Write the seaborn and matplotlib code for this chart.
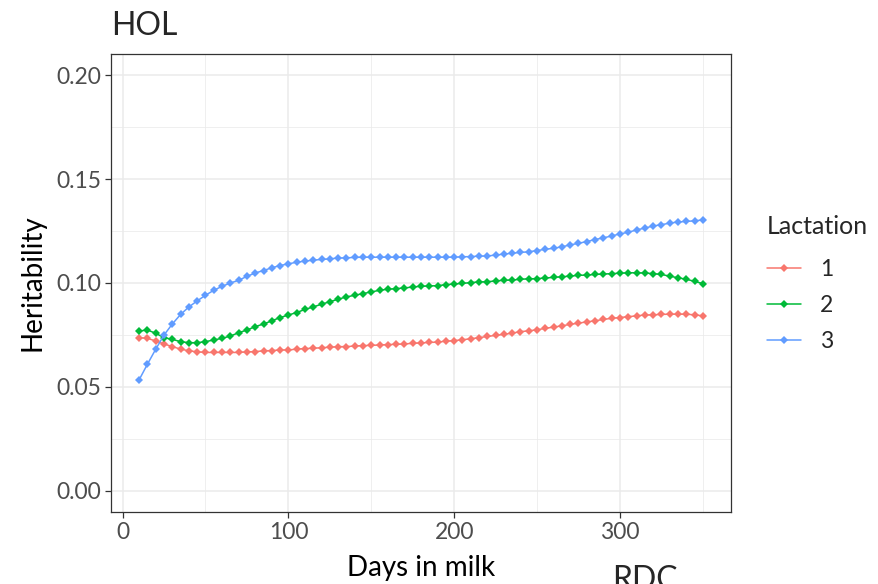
import numpy as np
import pandas as pd
import seaborn as sns
from matplotlib import pyplot as plt
from matplotlib.ticker import MultipleLocator


# days in milk, one point every 5 days
DIM = list(range(10, 355, 5))

# heritability per lactation
H2_LAC1 = [
    0.0737, 0.0734, 0.0721, 0.0707, 0.0694, 0.0682, 0.0674, 0.0669, 0.0666, 0.0666,
    0.0666, 0.0666, 0.0666, 0.0669, 0.0670, 0.0674, 0.0675, 0.0678, 0.0678, 0.0682,
    0.0685, 0.0686, 0.0689, 0.0691, 0.0694, 0.0694, 0.0697, 0.0699, 0.0700, 0.0702,
    0.0704, 0.0705, 0.0707, 0.0710, 0.0712, 0.0714, 0.0716, 0.0720, 0.0723, 0.0727,
    0.0732, 0.0737, 0.0743, 0.0748, 0.0753, 0.0759, 0.0766, 0.0770, 0.0775, 0.0782,
    0.0788, 0.0794, 0.0801, 0.0807, 0.0813, 0.0818, 0.0825, 0.0830, 0.0834, 0.0838,
    0.0842, 0.0846, 0.0847, 0.0849, 0.0850, 0.0850, 0.0850, 0.0847, 0.0842,
]
H2_LAC2 = [
    0.0769, 0.0774, 0.0758, 0.0737, 0.0729, 0.0718, 0.0713, 0.0713, 0.0718, 0.0726,
    0.0734, 0.0745, 0.0761, 0.0774, 0.0790, 0.0803, 0.0818, 0.0834, 0.0846, 0.0858,
    0.0873, 0.0885, 0.0898, 0.0910, 0.0922, 0.0933, 0.0941, 0.0949, 0.0957, 0.0965,
    0.0970, 0.0973, 0.0976, 0.0981, 0.0984, 0.0986, 0.0987, 0.0992, 0.0995, 0.0998,
    0.1002, 0.1005, 0.1006, 0.1010, 0.1013, 0.1014, 0.1018, 0.1020, 0.1021, 0.1024,
    0.1027, 0.1030, 0.1033, 0.1037, 0.1038, 0.1041, 0.1043, 0.1045, 0.1047, 0.1049,
    0.1049, 0.1048, 0.1045, 0.1041, 0.1033, 0.1025, 0.1018, 0.1008, 0.0997,
]
H2_LAC3 = [
    0.0535, 0.0610, 0.0682, 0.0750, 0.0803, 0.0849, 0.0885, 0.0914, 0.0941, 0.0965,
    0.0984, 0.1000, 0.1013, 0.1032, 0.1048, 0.1060, 0.1073, 0.1084, 0.1092, 0.1100,
    0.1105, 0.1110, 0.1113, 0.1116, 0.1120, 0.1121, 0.1123, 0.1124, 0.1124, 0.1124,
    0.1124, 0.1124, 0.1124, 0.1124, 0.1124, 0.1124, 0.1124, 0.1124, 0.1124, 0.1126,
    0.1127, 0.1129, 0.1130, 0.1134, 0.1139, 0.1143, 0.1147, 0.1150, 0.1156, 0.1162,
    0.1167, 0.1174, 0.1183, 0.1191, 0.1199, 0.1209, 0.1217, 0.1226, 0.1236, 0.1244,
    0.1255, 0.1264, 0.1274, 0.1280, 0.1288, 0.1293, 0.1296, 0.1299, 0.1303,
]
LACTATIONS = ["1", "2", "3"]
COLORS = {"1": "#F8766D", "2": "#00BA38", "3": "#619CFF"}

FONT = "Lato"


def build_frame():
    series = {"1": H2_LAC1, "2": H2_LAC2, "3": H2_LAC3}
    frames = []
    for lac in LACTATIONS:
        assert len(series[lac]) == len(DIM)
        frames.append(pd.DataFrame({"dim": DIM, "h2": series[lac], "Lactation": lac}))
    return pd.concat(frames, ignore_index=True)


def main():
    sns.set_theme(style="white")
    plt.rcParams["font.family"] = [FONT, "DejaVu Sans"]

    fig = plt.figure(figsize=(8.79, 5.84), dpi=100)
    ax = fig.add_axes([111 / 879, 1 - 512 / 584, 620 / 879, 458 / 584])

    df = build_frame()
    sns.lineplot(data=df, x="dim", y="h2", hue="Lactation", hue_order=LACTATIONS,
                 palette=COLORS, marker="D", markersize=4.5, markeredgewidth=0,
                 linewidth=1.1, ax=ax)

    ax.set_xlim(-7, 367)
    ax.set_ylim(-0.0101, 0.2101)
    ax.xaxis.set_major_locator(MultipleLocator(100))
    ax.xaxis.set_minor_locator(MultipleLocator(50))
    ax.yaxis.set_major_locator(MultipleLocator(0.05))
    ax.yaxis.set_minor_locator(MultipleLocator(0.025))
    ax.yaxis.set_major_formatter(plt.FormatStrFormatter("%.2f"))

    ax.grid(which="major", color="#EBEBEB", linewidth=1.1)
    ax.grid(which="minor", color="#EBEBEB", linewidth=0.55)
    ax.set_axisbelow(True)
    for spine in ax.spines.values():
        spine.set_color("#333333")
        spine.set_linewidth(0.9)
    ax.tick_params(which="major", length=4, width=0.9, color="#333333",
                   labelcolor="#4D4D4D", labelsize=16.5, pad=3,
                   bottom=True, left=True)
    ax.tick_params(which="minor", length=0)

    ax.set_xlabel("Days in milk", fontsize=20, color="black", labelpad=9)
    ax.set_ylabel("Heritability", fontsize=20, color="black", labelpad=8)

    handles, labels = ax.get_legend_handles_labels()
    ax.get_legend().remove()
    leg = fig.legend(handles, labels, title="Lactation", loc="upper left",
                     bbox_to_anchor=(767 / 879, 1 - 215 / 584), frameon=False,
                     borderpad=0, borderaxespad=0,
                     fontsize=16.5, title_fontsize=18, handlelength=1.5,
                     labelspacing=0.65, handletextpad=0.8)
    leg._legend_box.align = "left"
    # a bit more room between the legend title and the entries
    leg._legend_box.sep = 15

    fig.text(111 / 879, 1 - 35 / 584, "HOL", fontsize=23, va="baseline", ha="left")
    # title of the next panel, cut off at the bottom edge
    fig.text(612 / 879, 1 - 589 / 584, "RDC", fontsize=23, va="baseline", ha="left")

    fig.savefig("out.png", dpi=100)


if __name__ == "__main__":
    main()
